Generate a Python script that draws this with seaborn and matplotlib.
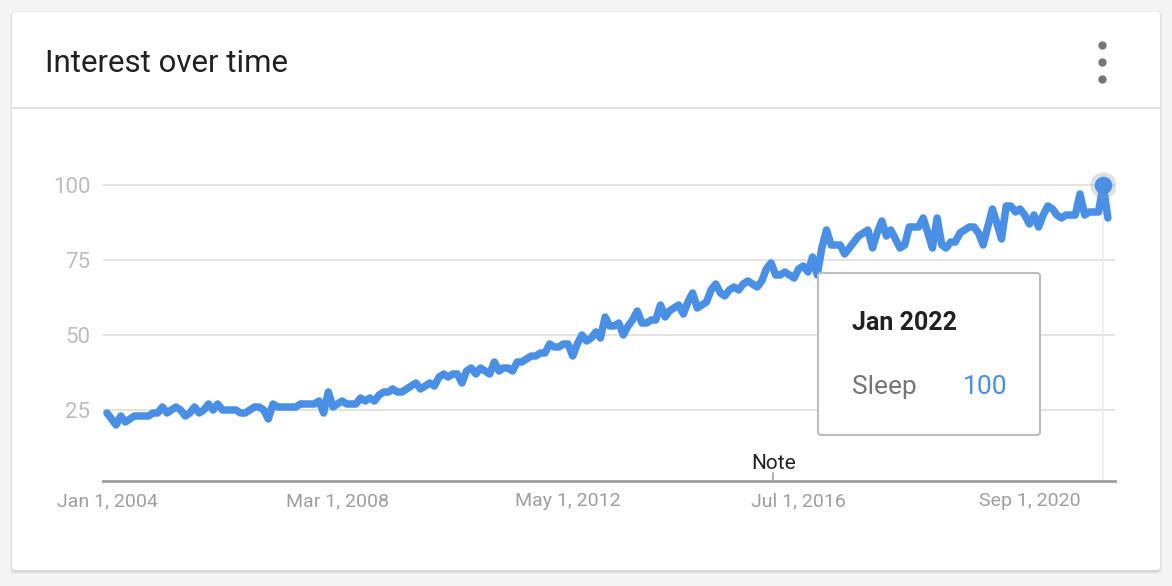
import matplotlib
matplotlib.use("Agg")
import matplotlib.pyplot as plt
import matplotlib.patches as mpatches
import seaborn as sns
import pandas as pd

# monthly interest values (Jan 2004 .. Feb 2022)
v2004 = [24, 22, 20, 23, 21, 22, 23, 23, 23, 23, 24, 24]
v2005 = [26, 24, 25, 26, 25, 23, 24, 26, 24, 25, 27, 25]
v2006 = [27, 25, 25, 25, 25, 24, 24, 25, 26, 26, 25, 22]
v2007 = [27, 26, 26, 26, 26, 26, 27, 27, 27, 27, 28, 24]
v2008 = [31, 26, 27, 28, 27, 27, 27, 29, 28, 29, 28, 30]
v2009 = [31, 31, 32, 31, 31, 32, 33, 34, 32, 33, 34, 33]
v2010 = [36, 37, 36, 37, 37, 34, 38, 39, 37, 39, 38, 37]
v2011 = [41, 38, 39, 39, 38, 41, 41, 42, 43, 43, 44, 44]
v2012 = [47, 46, 46, 47, 47, 43, 47, 50, 48, 49, 51, 49]
v2013 = [56, 53, 53, 54, 50, 53, 55, 58, 54, 54, 55, 55]
v2014 = [60, 56, 58, 59, 60, 57, 61, 64, 59, 60, 61, 65]
v2015 = [67, 64, 63, 65, 66, 65, 67, 68, 67, 66, 68, 72]
v2016 = [74, 70, 70, 71, 70, 69, 72, 73, 71, 76, 70, 79]
v2017 = [85, 80, 80, 80, 77, 79, 81, 83, 84, 85, 79, 84]
v2018 = [88, 83, 85, 82, 79, 80, 86, 86, 86, 89, 84, 79]
v2019 = [89, 80, 79, 81, 81, 84, 85, 86, 86, 84, 80, 86]
v2020 = [92, 87, 82, 93, 93, 91, 92, 90, 87, 90, 86, 90]
v2021 = [93, 92, 90, 89, 90, 90, 90, 97, 90, 91, 91, 91]
v2022 = [100, 89]

sleep = (v2004 + v2005 + v2006 + v2007 + v2008 + v2009 + v2010 + v2011 + v2012
         + v2013 + v2014 + v2015 + v2016 + v2017 + v2018 + v2019 + v2020 + v2021 + v2022)
months = pd.date_range("2004-01-01", periods=len(sleep), freq="MS")
df = pd.DataFrame({"month": months, "sleep": sleep})

tick_dates = ["2004-01-01", "2008-03-01", "2012-05-01", "2016-07-01", "2020-09-01"]
tick_labels = ["Jan 1, 2004", "Mar 1, 2008", "May 1, 2012", "Jul 1, 2016", "Sep 1, 2020"]
y_ticks = [25, 50, 75, 100]
peak_date = pd.Timestamp("2022-01-01")
note_date = pd.Timestamp("2016-01-15")

blue = "#4a8fe6"

sns.set_style("white")
plt.rcParams["font.family"] = ["Roboto", "DejaVu Sans"]

fig = plt.figure(figsize=(11.72, 5.86), dpi=100)
fig.patch.set_facecolor("#f4f4f4")

# card background in pixel coords
bg = fig.add_axes([0, 0, 1, 1], zorder=0)
bg.set_xlim(0, 1172)
bg.set_ylim(586, 0)
bg.axis("off")
for i, a in enumerate([0.05, 0.04, 0.03]):
    bg.add_patch(mpatches.FancyBboxPatch((12 - i, 12 - i + 1), 1148 + 2 * i, 558 + 2 * i + 1,
                                         boxstyle="round,pad=0,rounding_size=4",
                                         fc="black", ec="none", alpha=a))
bg.add_patch(mpatches.FancyBboxPatch((12, 12), 1148, 558, boxstyle="round,pad=0,rounding_size=3",
                                     fc="white", ec="none"))
bg.plot([12, 1160], [108, 108], color="#e0e0e0", lw=1.5)
bg.text(45, 63, "Interest over time", fontsize=22.5, color="#212121", va="center", ha="left")
bg.scatter([1102, 1102, 1102], [45, 62, 79], s=36, color="#757575", lw=0)

# main chart
ax = fig.add_axes([103 / 1172, (586 - 481) / 586, (1115 - 103) / 1172, (481 - 170) / 586], zorder=1)
ax.patch.set_alpha(0)
ybot = 1.33
ax.plot([peak_date, peak_date], [ybot, 100], color="#ececec", lw=1.2, zorder=1)
sns.lineplot(data=df, x="month", y="sleep", ax=ax, color=blue, lw=5.4, zorder=3)
ax.scatter([peak_date], [100], s=360, color="#8a9bb0", alpha=0.3, lw=0, zorder=4)
ax.scatter([peak_date], [100], s=160, color=blue, lw=0, zorder=5)

ax.set_xlim(pd.Timestamp("2003-12-06"), pd.Timestamp("2022-03-20"))
ax.set_ylim(ybot, 105)
ax.set_yticks(y_ticks)
ax.set_yticklabels([str(t) for t in y_ticks])
ax.set_xticks(pd.to_datetime(tick_dates))
ax.set_xticklabels(tick_labels)
ax.set_xlabel("")
ax.set_ylabel("")
ax.grid(axis="y", color="#e0e0e0", lw=1.3)
ax.grid(axis="x", visible=False)
for s in ["top", "right", "left"]:
    ax.spines[s].set_visible(False)
ax.spines["bottom"].set_color("#9e9e9e")
ax.spines["bottom"].set_linewidth(2)
ax.tick_params(axis="y", length=0, pad=9, labelsize=16, labelcolor="#bdbdbd")
ax.tick_params(axis="x", length=0, pad=8, labelsize=14, labelcolor="#9e9e9e")

# note marker
ax.plot([note_date, note_date], [ybot, 4], color="#9e9e9e", lw=1.2, clip_on=False)
ax.text(note_date, 7.3, "Note", fontsize=15, color="#212121", ha="center", va="center")

# tooltip
tip = fig.add_axes([0, 0, 1, 1], zorder=3)
tip.set_xlim(0, 1172)
tip.set_ylim(586, 0)
tip.axis("off")
tip.add_patch(mpatches.FancyBboxPatch((818, 273), 222, 162, boxstyle="round,pad=0,rounding_size=3",
                                      fc="white", ec="#bdbdbd", lw=1.5))
tip.text(852, 323, "Jan 2022", fontsize=18, fontweight="bold", color="#212121", va="center")
tip.text(852, 387, "Sleep", fontsize=19, color="#757575", va="center")
tip.text(1007, 387, "100", fontsize=19, color=blue, va="center", ha="right")

fig.savefig("out.png", dpi=100)
